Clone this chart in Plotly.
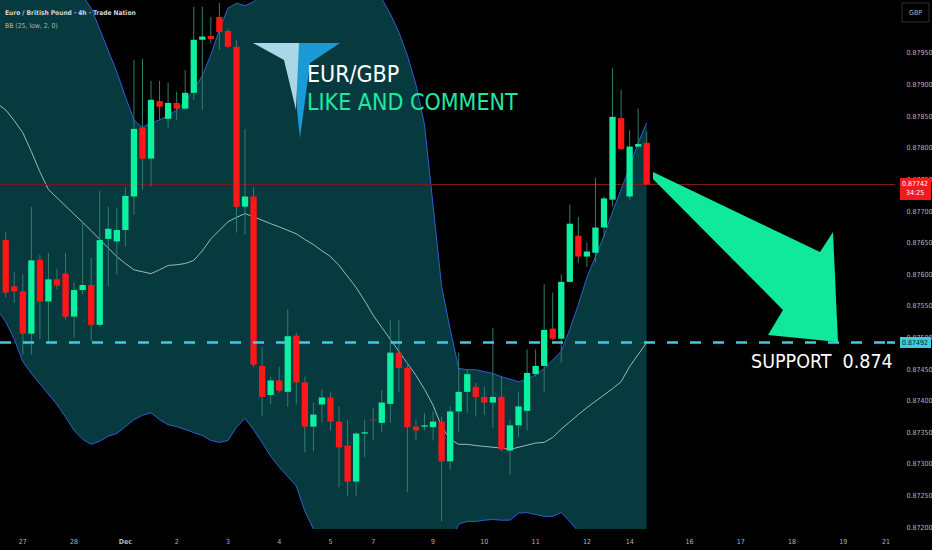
import plotly.graph_objects as go

# ---------------- data ----------------
opens = [0.87654, 0.87581, 0.87573, 0.87506, 0.87623, 0.87557, 0.87592, 0.87601, 0.87533, 0.87575,
         0.87583, 0.87520, 0.87656, 0.87652, 0.87670, 0.87723, 0.87832, 0.87783, 0.87874, 0.87846,
         0.87871, 0.87862, 0.87887, 0.87971, 0.87977, 0.88007, 0.87985, 0.87960, 0.87707, 0.87723,
         0.87455, 0.87409, 0.87432, 0.87414, 0.87503, 0.87429, 0.87359, 0.87394, 0.87405, 0.87367,
         0.87329, 0.87272, 0.87348, 0.87370, 0.87365, 0.87395, 0.87476, 0.87452, 0.87359, 0.87359,
         0.87358, 0.87367, 0.87304, 0.87383, 0.87414, 0.87422, 0.87406, 0.87397, 0.87406, 0.87321,
         0.87361, 0.87384, 0.87442, 0.87455, 0.87514, 0.87498, 0.87588, 0.87661, 0.87628, 0.87634,
         0.87674, 0.87718, 0.87847, 0.87723, 0.87802, 0.87808]
highs = [0.87667, 0.87604, 0.87600, 0.87707, 0.87631, 0.87634, 0.87609, 0.87634, 0.87587, 0.87682,
         0.87626, 0.87732, 0.87707, 0.87705, 0.87738, 0.87939, 0.87941, 0.87906, 0.87906, 0.87903,
         0.87889, 0.87923, 0.88023, 0.88023, 0.88007, 0.88029, 0.87988, 0.87971, 0.87830, 0.87738,
         0.87485, 0.87438, 0.87454, 0.87544, 0.87508, 0.87438, 0.87397, 0.87418, 0.87413, 0.87391,
         0.87370, 0.87350, 0.87370, 0.87389, 0.87417, 0.87528, 0.87528, 0.87460, 0.87370, 0.87381,
         0.87383, 0.87375, 0.87391, 0.87476, 0.87449, 0.87428, 0.87422, 0.87515, 0.87438, 0.87370,
         0.87413, 0.87481, 0.87481, 0.87584, 0.87571, 0.87600, 0.87710, 0.87691, 0.87650, 0.87753,
         0.87723, 0.87926, 0.87892, 0.87828, 0.87862, 0.87826]
lows = [0.87563, 0.87555, 0.87473, 0.87473, 0.87497, 0.87489, 0.87576, 0.87528, 0.87500, 0.87568,
        0.87494, 0.87517, 0.87581, 0.87600, 0.87644, 0.87694, 0.87734, 0.87739, 0.87844, 0.87832,
        0.87844, 0.87860, 0.87876, 0.87860, 0.87966, 0.87955, 0.87958, 0.87666, 0.87663, 0.87453,
        0.87375, 0.87394, 0.87413, 0.87390, 0.87394, 0.87318, 0.87320, 0.87366, 0.87353, 0.87263,
        0.87249, 0.87249, 0.87310, 0.87337, 0.87350, 0.87365, 0.87413, 0.87255, 0.87337, 0.87353,
        0.87337, 0.87209, 0.87291, 0.87350, 0.87381, 0.87375, 0.87378, 0.87357, 0.87320, 0.87283,
        0.87343, 0.87353, 0.87438, 0.87413, 0.87496, 0.87460, 0.87587, 0.87618, 0.87612, 0.87618,
        0.87659, 0.87707, 0.87797, 0.87718, 0.87800, 0.87742]
closes = [0.87571, 0.87573, 0.87506, 0.87622, 0.87557, 0.87592, 0.87582, 0.87533, 0.87575, 0.87583,
          0.87520, 0.87654, 0.87672, 0.87670, 0.87724, 0.87830, 0.87783, 0.87876, 0.87865, 0.87871,
          0.87862, 0.87887, 0.87971, 0.87976, 0.87972, 0.87983, 0.87960, 0.87707, 0.87723, 0.87457,
          0.87406, 0.87432, 0.87416, 0.87502, 0.87429, 0.87359, 0.87378, 0.87405, 0.87367, 0.87326,
          0.87272, 0.87348, 0.87350, 0.87369, 0.87397, 0.87476, 0.87452, 0.87358, 0.87353, 0.87361,
          0.87367, 0.87304, 0.87383, 0.87414, 0.87442, 0.87406, 0.87397, 0.87406, 0.87323, 0.87361,
          0.87391, 0.87444, 0.87455, 0.87512, 0.87498, 0.87588, 0.87680, 0.87628, 0.87636, 0.87674,
          0.87720, 0.87849, 0.87798, 0.87802, 0.87806, 0.87742]

# Bollinger bands: the first value sits one bar left of the first visible candle (at the chart's edge)
band_start = -1
bb_upper = [0.88200,
            0.88192, 0.88186, 0.88179, 0.88145, 0.88105, 0.88074, 0.88062, 0.88055, 0.88048, 0.88040,
            0.88021, 0.87987, 0.87955, 0.87920, 0.87881, 0.87844, 0.87832, 0.87840, 0.87844, 0.87851,
            0.87860, 0.87874, 0.87892, 0.87914, 0.87947, 0.87987, 0.88021, 0.88029, 0.88025, 0.88031,
            0.88042, 0.88053, 0.88062, 0.88069, 0.88072, 0.88074, 0.88074, 0.88072, 0.88069, 0.88066,
            0.88061, 0.88055, 0.88048, 0.88042, 0.88036, 0.88012, 0.87983, 0.87946, 0.87900, 0.87837,
            0.87705, 0.87581, 0.87513, 0.87451, 0.87449, 0.87449, 0.87446, 0.87443, 0.87438, 0.87434,
            0.87430, 0.87434, 0.87441, 0.87451, 0.87465, 0.87478, 0.87513, 0.87552, 0.87595, 0.87629,
            0.87661, 0.87699, 0.87734, 0.87769, 0.87808, 0.87840]
bb_middle = [0.87870,
             0.87860, 0.87843, 0.87824, 0.87794, 0.87762, 0.87734, 0.87721, 0.87709, 0.87696, 0.87682,
             0.87669, 0.87655, 0.87642, 0.87628, 0.87617, 0.87607, 0.87604, 0.87601, 0.87607, 0.87614,
             0.87615, 0.87617, 0.87622, 0.87637, 0.87656, 0.87670, 0.87683, 0.87690, 0.87696, 0.87691,
             0.87685, 0.87680, 0.87675, 0.87670, 0.87664, 0.87655, 0.87647, 0.87637, 0.87628, 0.87614,
             0.87596, 0.87579, 0.87558, 0.87535, 0.87516, 0.87497, 0.87478, 0.87459, 0.87440, 0.87418,
             0.87393, 0.87359, 0.87339, 0.87331, 0.87331, 0.87329, 0.87328, 0.87326, 0.87325, 0.87323,
             0.87326, 0.87329, 0.87333, 0.87334, 0.87342, 0.87355, 0.87367, 0.87378, 0.87389, 0.87399,
             0.87408, 0.87419, 0.87430, 0.87454, 0.87473, 0.87492]
bb_lower = [0.87544,
            0.87525, 0.87497, 0.87462, 0.87443, 0.87427, 0.87411, 0.87394, 0.87374, 0.87353, 0.87339,
            0.87331, 0.87336, 0.87344, 0.87348, 0.87359, 0.87370, 0.87377, 0.87381, 0.87370, 0.87362,
            0.87359, 0.87354, 0.87350, 0.87345, 0.87337, 0.87334, 0.87337, 0.87358, 0.87372, 0.87354,
            0.87334, 0.87312, 0.87295, 0.87280, 0.87265, 0.87225, 0.87197, 0.87181, 0.87168, 0.87157,
            0.87133, 0.87110, 0.87078, 0.87047, 0.87023, 0.87007, 0.86999, 0.86999, 0.87007, 0.87023,
            0.87086, 0.87141, 0.87173, 0.87205, 0.87209, 0.87209, 0.87211, 0.87212, 0.87211, 0.87211,
            0.87222, 0.87223, 0.87220, 0.87217, 0.87217, 0.87223, 0.87209, 0.87193, 0.87184, 0.87168,
            0.87156, 0.87140, 0.87127, 0.87140, 0.87138, 0.87144]

support_level = 0.87492
support_text = "SUPPORT\u00a0\u00a00.874"
countdown = "34:25"

x_tick_index = [2, 8, 14, 20, 26, 32, 38, 43, 50, 56, 62, 68, 73, 80, 86, 92, 98, 103]
x_tick_labels = ["27", "28", "<b>Dec</b>", "2", "3", "4", "5", "7", "9", "10", "11", "12", "14",
                 "16", "17", "18", "19", "21"]
y_tick_values = [0.8720, 0.8725, 0.8730, 0.8735, 0.8740, 0.8745, 0.8750, 0.8755, 0.8760,
                 0.8765, 0.8770, 0.8775, 0.8780, 0.8785, 0.8790, 0.8795]

# ---------------- styling ----------------
GREEN = "#0cf0a0"
RED = "#ff1717"
WICK = "#2f7f6c"
FILL = "#063a3f"
BAND = "#2f5fd0"
MID = "#9db7bb"
CYAN = "#3fcbe2"
ARROW = "#10e89c"
FONT = "Liberation Sans Narrow, DejaVu Sans Condensed, Arial Narrow, Liberation Sans, sans-serif"
AXFONT = dict(size=7, color="#b2b5be", family=FONT)

W, H = 932, 550
ML, MR, MT, MB = 0, 37, 0, 21
PW, PH = W - ML - MR, H - MT - MB


def px(x, y):
    return x / PW, 1 - y / PH


def poly(points):
    pts = [px(x, y) for x, y in points]
    return "M " + " L ".join(f"{a:.5f},{b:.5f}" for a, b in pts) + " Z"


n = len(opens)
idx = list(range(n))
band_idx = list(range(band_start, band_start + len(bb_upper)))

fig = go.Figure()

# Bollinger band fill and lines
fig.add_trace(go.Scatter(x=band_idx, y=bb_lower, mode="lines", line=dict(color=BAND, width=1),
                         hoverinfo="skip"))
fig.add_trace(go.Scatter(x=band_idx, y=bb_upper, mode="lines", line=dict(color=BAND, width=1),
                         fill="tonexty", fillcolor=FILL, hoverinfo="skip"))
fig.add_trace(go.Scatter(x=band_idx, y=bb_middle, mode="lines", line=dict(color=MID, width=1),
                         hoverinfo="skip"))

# last price line
fig.add_trace(go.Scatter(x=[-2, 110], y=[closes[-1], closes[-1]], mode="lines",
                         line=dict(color="#7a1a1a", width=1), hoverinfo="skip"))

# wicks
wx, wy = [], []
for i in idx:
    wx += [i, i, None]
    wy += [lows[i], highs[i], None]
fig.add_trace(go.Scatter(x=wx, y=wy, mode="lines", line=dict(color=WICK, width=1),
                         hoverinfo="skip"))

# bodies (drawn as thick vertical segments so they sit above the band fill)
MIN_BODY = 0.000012
for col, up in ((GREEN, True), (RED, False)):
    bx, by = [], []
    for i in idx:
        o, c = opens[i], closes[i]
        if (c >= o) != up:
            continue
        lo, hi = min(o, c), max(o, c)
        if hi - lo < MIN_BODY:
            hi = lo + MIN_BODY
        bx += [i, i, None]
        by += [lo, hi, None]
    fig.add_trace(go.Scatter(x=bx, y=by, mode="lines", line=dict(color=col, width=6.3),
                             hoverinfo="skip"))

shapes = []
# support dashed line
shapes.append(dict(type="line", xref="paper", yref="y", x0=0, x1=px(885, 0)[0], y0=support_level,
                   y1=support_level, line=dict(color=CYAN, width=2.5, dash="11px,12px"), layer="above"))
shapes.append(dict(type="line", xref="paper", yref="y", x0=px(887, 0)[0], x1=1, y0=support_level,
                   y1=support_level, line=dict(color=CYAN, width=2.5), layer="above"))
# big arrow
shapes.append(dict(type="path", xref="paper", yref="paper",
                   path=poly([(653, 172), (820, 252), (833, 232), (838, 342), (768, 335), (783, 310), (653, 179)]),
                   fillcolor=ARROW, line=dict(width=0), layer="above"))
# logo
shapes.append(dict(type="path", xref="paper", yref="paper",
                   path=poly([(297, 43), (340, 43), (310, 63), (300, 138), (297, 110)]),
                   fillcolor="#1c9ad6", line=dict(width=0), layer="above"))
shapes.append(dict(type="path", xref="paper", yref="paper",
                   path=poly([(253, 43), (299, 43), (296, 110), (284, 60)]),
                   fillcolor="#a9d7e5", line=dict(width=0), layer="above"))
# price-scale boxes
bx0, _ = px(900, 0)
bx1, _ = px(931, 0)
shapes.append(dict(type="rect", xref="paper", yref="paper", x0=bx0, x1=bx1,
                   y0=px(0, 200)[1], y1=px(0, 178)[1], fillcolor="#f21b1b", line=dict(width=0),
                   layer="above"))
shapes.append(dict(type="rect", xref="paper", yref="paper", x0=bx0, x1=bx1,
                   y0=px(0, 348)[1], y1=px(0, 337)[1], fillcolor=CYAN, line=dict(width=0),
                   layer="above"))
shapes.append(dict(type="rect", xref="paper", yref="paper", x0=px(902, 0)[0], x1=px(929, 0)[0],
                   y0=px(0, 22)[1], y1=px(0, 3)[1], fillcolor="#000000",
                   line=dict(color="#2a2e39", width=1), layer="above"))

annotations = []


def label(x, y, text, size, color, anchor="left", bold=False):
    ax, ay = px(x, y)
    annotations.append(dict(xref="paper", yref="paper", x=ax, y=ay, xanchor=anchor, yanchor="middle",
                            text=f"<b>{text}</b>" if bold else text, showarrow=False,
                            font=dict(size=size, color=color, family=FONT)))


label(3, 13, "Euro / British Pound · 4h · Trade Nation", 6.6, "#d1d4dc", bold=True)
label(3, 25.5, "BB (25, low, 2, 0)", 6.8, "#b2b5be")
label(305, 74, "EUR/GBP", 23, "#ffffff")
label(305, 102, "LIKE AND COMMENT", 23, "#1fe8a0")
label(749, 361, support_text, 19.5, "#ffffff")
label(915.5, 184, f"{closes[-1]:.5f}", 7, "#ffffff", anchor="center")
label(915.5, 193, countdown, 7, "#ffffff", anchor="center")
label(915.5, 342.5, f"{support_level:.5f}", 7, "#06262e", anchor="center")
label(915.5, 12.5, "GBP", 7, "#b2b5be", anchor="center")

fig.update_layout(
    width=W, height=H,
    margin=dict(l=ML, r=MR, t=MT, b=MB),
    paper_bgcolor="#000000", plot_bgcolor="#000000",
    showlegend=False,
    xaxis=dict(range=[-0.67, 104.05], showgrid=False, zeroline=False, showline=False,
               tickmode="array", tickvals=x_tick_index, ticktext=x_tick_labels,
               tickfont=AXFONT, ticks="outside", ticklen=6, tickcolor="rgba(0,0,0,0)"),
    yaxis=dict(range=[0.87197, 0.880339], side="right", showgrid=False, zeroline=False,
               showline=False, tickmode="array", tickvals=y_tick_values,
               ticktext=[f"{v:.5f}" for v in y_tick_values], tickfont=AXFONT,
               ticks="outside", ticklen=9, tickcolor="rgba(0,0,0,0)"),
    shapes=shapes,
    annotations=annotations,
)

fig.write_html("out.html", config={"displayModeBar": False}, post_script=(
    "document.documentElement.style.margin='0';document.body.style.margin='0';"
    "document.body.style.padding='0';document.body.style.overflow='hidden';"
    "document.body.style.background='#000';"))
